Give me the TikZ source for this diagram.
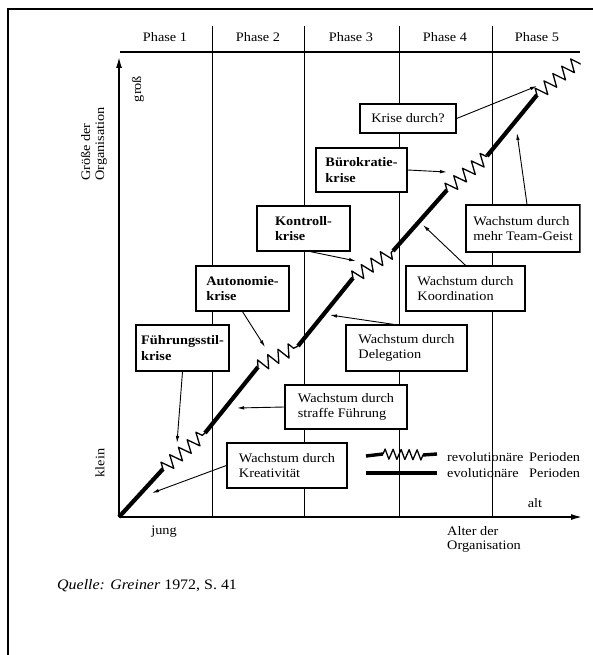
\documentclass[tikz,border=0pt]{standalone}
\usepackage{fontspec}
\setmainfont{Liberation Serif}[FakeStretch=1.1]
\usetikzlibrary{arrows.meta,decorations.pathmorphing}

\begin{document}
\begin{tikzpicture}[x=1pt,y=-1pt,
  txt/.style={font=\fontsize{13}{14}\selectfont, inner sep=0pt},
  box/.style={draw, fill=white, line width=1.3pt, align=left, inner sep=0pt,
              font=\fontsize{13}{15.5}\selectfont},
  boldbox/.style={box, font=\fontsize{13}{15.5}\selectfont\bfseries},
  evo/.style={line width=4.2pt},
  revo/.style={line width=1.3pt, line join=round, decorate,
               decoration={zigzag, segment length=11.5pt, amplitude=6.5pt}},
  pointer/.style={line width=0.9pt, -{Latex[length=7pt,width=3.5pt]}},
  gridline/.style={line width=1pt},
  axis/.style={line width=1.4pt, -{Latex[length=11pt,width=6pt]}}
]
\useasboundingbox (0,0) rectangle (593,655);

% page frame (top and left edge)
\draw[line width=2pt] (593,9) -- (8,9) -- (8,655);

\begin{scope}
\clip (0,0) rectangle (580.5,655);

% axes and phase grid
\coordinate (O) at (119,517);
\coordinate (ytip) at (119,57);
\coordinate (xtip) at (582,517);
\coordinate (hl) at (120,52);
\coordinate (hr) at (580,52);
\draw[line width=1.3pt] (hl) -- (hr);
\foreach \px in {212,304,399,492}
  \draw[gridline] (\px,26) -- (\px,517);
\draw[axis] (O) -- (ytip);
\draw[axis] (O) -- (xtip);

% phase headings
\node[txt] (ph1) at (165,37) {Phase 1};
\node[txt] (ph2) at (258,37) {Phase 2};
\node[txt] (ph3) at (351,37) {Phase 3};
\node[txt] (ph4) at (445,37) {Phase 4};
\node[txt] (ph5) at (537,37) {Phase 5};

% axis labels
\node[txt, rotate=90] (gross) at (138,89) {groß};
\node[txt, rotate=90, align=left] (ylab) at (94,144) {Größe der\\Organisation};
\node[txt, rotate=90] (klein) at (100,463) {klein};
\node[txt] (jung) at (164,532) {jung};
\node[txt] (alt) at (535,503) {alt};
\node[txt, align=left, anchor=west] (xlab) at (447,539) {Alter der\\Organisation};

% growth curve: evolutionary phases (thick) and revolutionary phases (zigzag)
\coordinate (a1) at (163,469);  \coordinate (b1) at (205,433);
\coordinate (a2) at (258,367);  \coordinate (b2) at (298,346);
\coordinate (a3) at (353,278);  \coordinate (b3) at (393,251);
\coordinate (a4) at (447,190);  \coordinate (b4) at (487,156);
\coordinate (a5) at (537,95);   \coordinate (b5) at (582,58);
\draw[evo] (O) -- (a1);
\draw[revo] (a1) -- (b1);
\draw[evo] (b1) -- (a2);
\draw[revo] (a2) -- (b2);
\draw[evo] (b2) -- (a3);
\draw[revo] (a3) -- (b3);
\draw[evo] (b3) -- (a4);
\draw[revo] (a4) -- (b4);
\draw[evo] (b4) -- (a5);
\draw[revo] (a5) -- (b5);

% crisis boxes
\node[boldbox, minimum width=93pt, minimum height=46pt] (fuehr) at (182.5,348) {Führungsstil-\\krise};
\node[boldbox, minimum width=93pt, minimum height=45pt] (auto) at (242.5,288.5) {Autonomie-\\krise};
\node[boldbox, minimum width=93pt, minimum height=45pt] (kontr) at (303.5,228.5) {Kontroll-\\krise};
\node[boldbox, minimum width=91pt, minimum height=44pt] (buero) at (361.5,170) {Bürokratie-\\krise};
\node[box, minimum width=96pt, minimum height=29pt] (krise) at (408,118.5) {Krise durch?};

% growth boxes
\node[box, minimum width=120pt, minimum height=45pt] (kreat) at (287,465.5) {Wachstum durch\\Kreativität};
\node[box, minimum width=122pt, minimum height=44pt] (straff) at (346,407) {Wachstum durch\\straffe Führung};
\node[box, minimum width=121pt, minimum height=46pt] (deleg) at (406.5,348) {Wachstum durch\\Delegation};
\node[box, minimum width=119pt, minimum height=45pt] (koord) at (465.5,288.5) {Wachstum durch\\Koordination};
\node[box, minimum width=114pt, minimum height=47pt] (team) at (523,228.5) {Wachstum durch\\mehr Team-Geist};

% pointers onto the curve
\coordinate (t1) at (177,443);
\coordinate (t2) at (265,347);
\coordinate (t3) at (356,261);
\coordinate (t4) at (447,172);
\coordinate (t5) at (537,86);
\coordinate (g1) at (152,493);
\coordinate (g2) at (237,408);
\coordinate (g3) at (330,315);
\coordinate (g4) at (423,225);
\coordinate (g5) at (517,133);
\draw[pointer] (fuehr.south) -- (t1);
\draw[pointer] (auto.south) -- (t2);
\draw[pointer] ([xshift=7pt]kontr.south) -- (t3);
\draw[pointer] (buero.east) -- (t4);
\draw[pointer] (krise.east) -- (t5);
\draw[pointer] (kreat.west) -- (g1);
\draw[pointer] (straff.west) -- (g2);
\draw[pointer] ([xshift=-13pt]deleg.north) -- (g3);
\draw[pointer] (koord.north) -- (g4);
\draw[pointer] ([xshift=4pt]team.north) -- (g5);

% legend
\coordinate (l1) at (366,456);
\coordinate (l2) at (383,454);
\coordinate (l3) at (423,455);
\coordinate (l4) at (437,454);
\draw[line width=3.4pt] (l1) -- (l2);
\draw[revo, decoration={zigzag, segment length=8pt, amplitude=5pt}] (l2) -- (l3);
\draw[line width=3.4pt] (l3) -- (l4);
\coordinate (m1) at (366,473);
\coordinate (m2) at (437,473);
\draw[evo] (m1) -- (m2);
\node[txt, anchor=west] (rev) at (447,457) {revolutionäre};
\node[txt, anchor=west] (revp) at (529,457) {Perioden};
\node[txt, anchor=west] (evl) at (447,473) {evolutionäre};
\node[txt, anchor=west] (evlp) at (529,473) {Perioden};
\end{scope}

% source line
\node[anchor=west, inner sep=0pt, font=\fontsize{14.5}{17}\selectfont] (quelle) at (57,586)
  {\textit{Quelle: Greiner} 1972, S.~41};
\end{tikzpicture}
\end{document}
